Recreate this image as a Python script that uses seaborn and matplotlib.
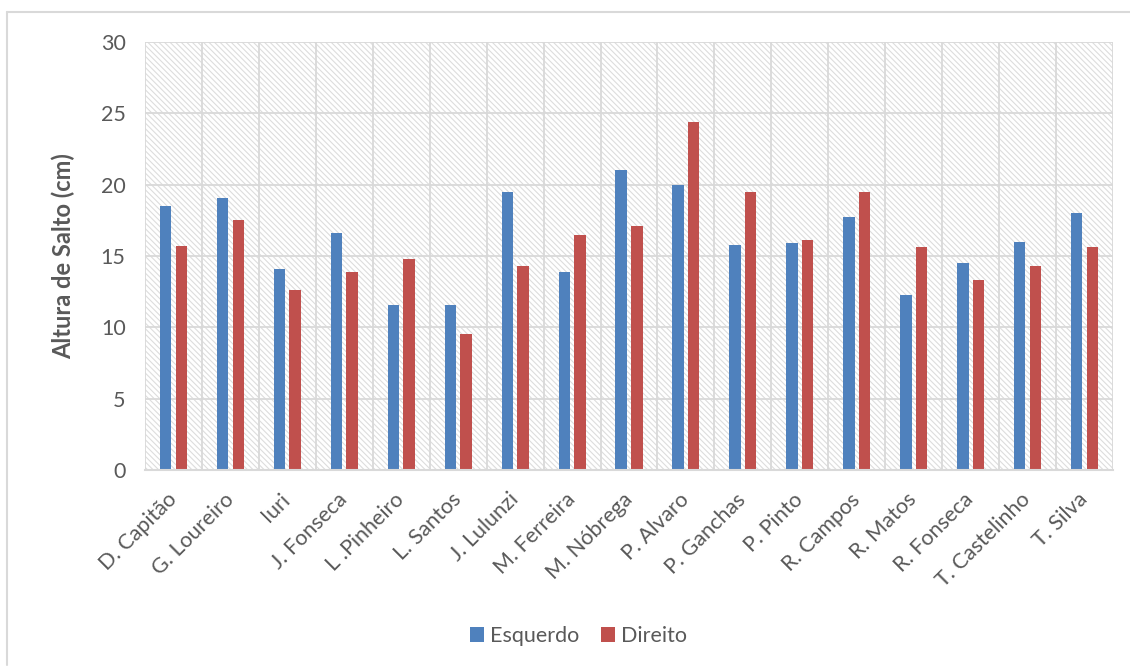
import numpy as np
import pandas as pd
import matplotlib
matplotlib.use("Agg")
import matplotlib.pyplot as plt
from matplotlib.patches import Rectangle
from matplotlib.lines import Line2D
import seaborn as sns

atletas = ["D. Capitão", "G. Loureiro", "Iuri", "J. Fonseca", "L .Pinheiro",
           "L. Santos", "J. Lulunzi", "M. Ferreira", "M. Nóbrega", "P. Alvaro",
           "P. Ganchas", "P. Pinto", "R. Campos", "R. Matos", "R. Fonseca",
           "T. Castelinho", "T. Silva"]
esquerdo = [18.5, 19.1, 14.1, 16.6, 11.6, 11.6, 19.5, 13.9, 21.0, 20.0,
            15.8, 15.9, 17.7, 12.3, 14.5, 16.0, 18.0]
direito = [15.7, 17.5, 12.6, 13.9, 14.8, 9.5, 14.3, 16.5, 17.1, 24.4,
           19.5, 16.1, 19.5, 15.6, 13.3, 14.3, 15.6]
lados = ["Esquerdo", "Direito"]
y_ticks = [0, 5, 10, 15, 20, 25, 30]

cores = ["#4F81BD", "#C0504D"]
cinza_texto = "#595959"
cinza_grelha = "#D9D9D9"

df = pd.DataFrame({
    "Atleta": atletas * 2,
    "Altura": esquerdo + direito,
    "Lado": [lados[0]] * len(atletas) + [lados[1]] * len(atletas),
})

sns.set_theme(style="white")
plt.rcParams["font.family"] = ["Lato", "DejaVu Sans"]
plt.rcParams["hatch.linewidth"] = 0.8

fig = plt.figure(figsize=(11.3, 6.66), dpi=100)
ax = fig.add_axes([145 / 1130, 1 - 470 / 666, (1113 - 145) / 1130, (470 - 42) / 666])

# hatched plot-area background
ax.add_patch(Rectangle((0, 0), 1, 1, transform=ax.transAxes, facecolor="white",
                       edgecolor="#DDDDDD", hatch="\\\\\\\\\\\\", lw=0, zorder=0))

sns.barplot(data=df, x="Atleta", y="Altura", hue="Lado", hue_order=lados,
            palette=cores, saturation=1, width=0.55, gap=0.27, linewidth=0,
            ax=ax, legend=False, zorder=2)

ax.set_ylim(0, 30)
ax.set_xlim(-0.5, len(atletas) - 0.5)
ax.set_yticks(y_ticks)
ax.set_yticklabels([str(t) for t in y_ticks])
ax.set_xticks(np.arange(-0.5, len(atletas), 1), minor=True)
ax.set_axisbelow(True)
ax.grid(True, which="major", axis="y", color=cinza_grelha, lw=1.3)
ax.grid(True, which="minor", axis="x", color=cinza_grelha, lw=1.3)
ax.grid(False, which="major", axis="x")

for s in ["top", "right", "left"]:
    ax.spines[s].set_visible(False)
ax.spines["bottom"].set_color(cinza_grelha)
ax.spines["bottom"].set_linewidth(1.5)

ax.tick_params(axis="both", which="both", length=0, labelsize=15.5, colors=cinza_texto)
ax.tick_params(axis="y", pad=14)
ax.tick_params(axis="x", pad=19)
for lbl in ax.get_xticklabels():
    lbl.set_rotation(45)
    lbl.set_ha("right")
    lbl.set_va("center")
    lbl.set_rotation_mode("anchor")

ax.set_xlabel("")
ax.set_ylabel("Altura de Salto (cm)", fontsize=17, fontweight="bold",
              color=cinza_texto, labelpad=18)

handles = [Rectangle((0, 0), 1, 1, facecolor=c, lw=0) for c in cores]
fig.legend(handles, lados, loc="center", bbox_to_anchor=(0.512, 0.045), ncol=2,
           frameon=False, fontsize=15.5, labelcolor=cinza_texto,
           handlelength=0.65, handleheight=0.65, handletextpad=0.3,
           columnspacing=1.0)

# chart-area border
fig.add_artist(Line2D([7 / 1130, 7 / 1130], [1 - 665 / 666, 1 - 12 / 666],
                      transform=fig.transFigure, color=cinza_grelha, lw=1.5))
fig.add_artist(Line2D([7 / 1130, 1.0], [1 - 12 / 666, 1 - 12 / 666],
                      transform=fig.transFigure, color=cinza_grelha, lw=1.5))

fig.savefig("out.png", dpi=100)
